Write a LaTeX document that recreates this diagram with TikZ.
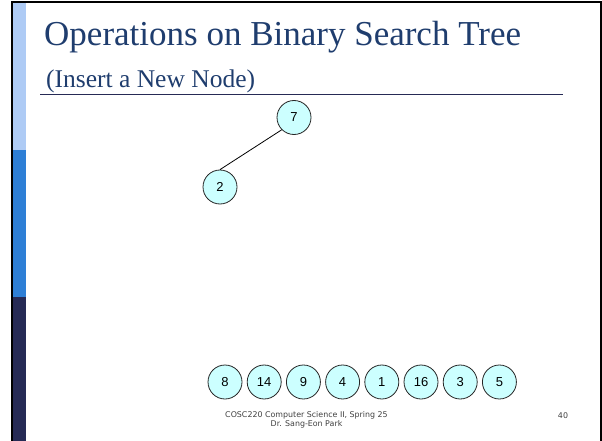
\documentclass[tikz,border=0pt]{standalone}
\usepackage{fontspec}
\setmainfont{Liberation Serif}
\newfontfamily\nodefont{Liberation Sans}
\newfontfamily\footfont{DejaVu Sans}

\definecolor{barlight}{HTML}{AECBF5}
\definecolor{barmid}{HTML}{2E7FD6}
\definecolor{bardark}{HTML}{262A55}
\definecolor{titleblue}{HTML}{1F3D6E}
\definecolor{rulenavy}{HTML}{262A55}
\definecolor{nodefill}{HTML}{CCFFFF}
\definecolor{foottext}{HTML}{404040}

\tikzset{
  bstnode/.style={circle, draw=black!85, line width=0.8pt, fill=nodefill,
    minimum size=34pt, inner sep=0pt, font=\nodefont\fontsize{13}{13}\selectfont},
  edge/.style={draw=black, line width=0.8pt},
  foot/.style={font=\footfont\fontsize{7.9}{9.6}\selectfont, text=foottext, inner sep=0pt}
}

\begin{document}
\begin{tikzpicture}[x=1pt, y=-1pt]
  \useasboundingbox (0,0) rectangle (602,441);
  \fill[white] (0,0) rectangle (602,441);

  % slide frame
  \fill[black] (11,1) rectangle (13,441);
  \fill[black] (11,1) rectangle (602,3);
  \fill[black] (600,1) rectangle (602,441);

  % left accent bar
  \fill[barlight] (13,3) rectangle (26,150);
  \fill[barmid] (13,150) rectangle (26,297);
  \fill[bardark] (13,297) rectangle (26,441);

  % heading
  \node[anchor=base west, inner sep=0pt, text=titleblue,
        font=\fontsize{35}{35}\selectfont] (title) at (44,46)
        {Operations on Binary Search Tree};
  \node[anchor=base west, inner sep=0pt, text=titleblue,
        font=\fontsize{25.5}{25.5}\selectfont] (subtitle) at (46,88)
        {(Insert a New Node)};
  \coordinate (ruleL) at (40,95);
  \coordinate (ruleR) at (563,95);
  \draw[rulenavy, line width=1pt] (ruleL) -- (ruleR);

  % tree
  \node[bstnode] (n7) at (294,117.5) {7};
  \node[bstnode] (n2) at (220,187) {2};
  \draw[edge] (n7.south west) -- (n2.north);

  % keys waiting to be inserted
  \foreach \k [count=\i from 0] in {8,14,9,4,1,16,3,5} {
    \node[bstnode] (q\i) at ({225+39.2*\i},382) {\k};
  }

  % footer
  \node[foot, align=center] (footer) at (306.5,420)
        {COSC220 Computer Science II, Spring 25\\Dr. Sang-Eon Park};
  \node[foot, anchor=base] (page) at (563,418.5) {40};
\end{tikzpicture}
\end{document}
